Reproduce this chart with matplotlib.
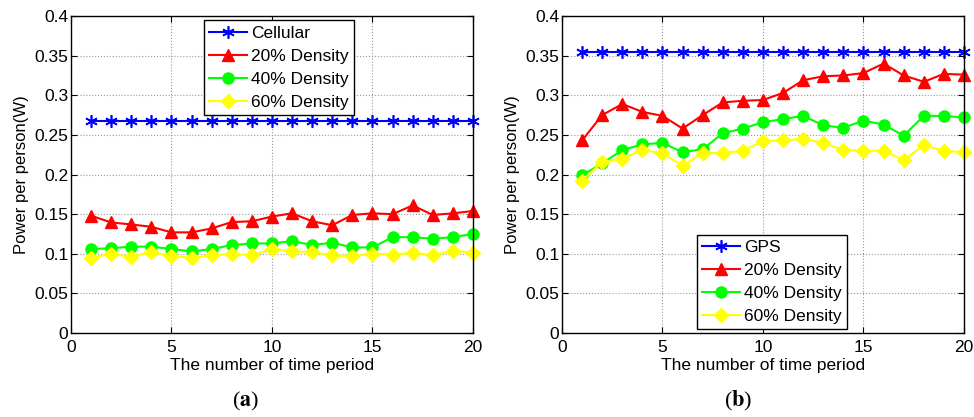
import numpy as np
import matplotlib
matplotlib.use('Agg')
from matplotlib import pyplot as plt

plt.rcParams['font.family'] = ['Liberation Sans', 'DejaVu Sans']
plt.rcParams['mathtext.fontset'] = 'stix'

# Time periods
periods = np.arange(1, 21)

# Panel (a): cellular baseline and densities
cellular = [0.267] * 20
a_20 = [0.148, 0.1395, 0.137, 0.134, 0.127, 0.127, 0.132, 0.140, 0.141, 0.147,
        0.151, 0.141, 0.136, 0.149, 0.151, 0.150, 0.161, 0.149, 0.151, 0.154]
a_40 = [0.106, 0.107, 0.109, 0.109, 0.106, 0.103, 0.106, 0.111, 0.113, 0.113,
        0.116, 0.111, 0.114, 0.108, 0.108, 0.121, 0.121, 0.119, 0.121, 0.125]
a_60 = [0.095, 0.100, 0.096, 0.102, 0.097, 0.095, 0.098, 0.100, 0.098, 0.106,
        0.103, 0.102, 0.098, 0.097, 0.100, 0.099, 0.101, 0.098, 0.104, 0.101]

# Panel (b): GPS baseline and densities
gps = [0.354] * 20
b_20 = [0.243, 0.275, 0.289, 0.279, 0.274, 0.258, 0.275, 0.291, 0.293, 0.294,
        0.303, 0.319, 0.324, 0.325, 0.328, 0.340, 0.325, 0.317, 0.327, 0.326]
b_40 = [0.199, 0.214, 0.231, 0.238, 0.240, 0.228, 0.232, 0.252, 0.258, 0.266,
        0.270, 0.274, 0.262, 0.259, 0.268, 0.263, 0.249, 0.274, 0.274, 0.272]
b_60 = [0.192, 0.216, 0.220, 0.231, 0.227, 0.211, 0.227, 0.227, 0.230, 0.242,
        0.243, 0.245, 0.240, 0.231, 0.230, 0.230, 0.218, 0.237, 0.230, 0.228]

yticks = np.arange(0, 0.401, 0.05)
ytick_labels = ['0', '0.05', '0.1', '0.15', '0.2', '0.25', '0.3', '0.35', '0.4']
xticks = [0, 5, 10, 15, 20]

# asterisk marker like matlab's '*'
star = (6, 2, 0)


def draw_panel(ax, base, base_name, d20, d40, d60, legend_anchor):
    ax.plot(periods, base, color='b', marker=star, ms=9, mew=1.2, lw=1.5, label=base_name, clip_on=False)
    ax.plot(periods, d20, color='r', marker='^', ms=9, lw=1.5, label='20% Density', clip_on=False)
    ax.plot(periods, d40, color=(0, 1, 0), marker='o', ms=8, lw=1.5, label='40% Density', clip_on=False)
    ax.plot(periods, d60, color=(1, 1, 0), marker='D', ms=7, lw=1.5, label='60% Density', clip_on=False)
    ax.set_xlim(0, 20)
    ax.set_ylim(0, 0.4)
    ax.set_xticks(xticks)
    ax.set_yticks(yticks)
    ax.set_yticklabels(ytick_labels)
    ax.tick_params(direction='in', top=True, right=True, labelsize=12.5, length=4)
    ax.tick_params(axis='x', pad=5)
    ax.tick_params(axis='y', pad=2)
    ax.grid(True, linestyle=':', color='#9a9a9a', lw=0.8)
    for s in ax.spines.values():
        s.set_linewidth(1.0)
    ax.set_xlabel('The number of time period', fontsize=12.5, labelpad=2)
    ax.set_ylabel('Power per person(W)', fontsize=12, labelpad=4)
    leg = ax.legend(loc='lower left', bbox_to_anchor=legend_anchor, fontsize=12.5,
                    fancybox=False, edgecolor='k', framealpha=1, handlelength=2.2,
                    handletextpad=0.2, borderpad=0.3, labelspacing=0.45, borderaxespad=0)
    leg.get_frame().set_linewidth(1.0)


fig = plt.figure(figsize=(9.74, 4.17), dpi=100)
ax1 = fig.add_axes([0.0729, 0.2014, 0.4127, 0.7602])
ax2 = fig.add_axes([0.577, 0.2014, 0.4127, 0.7602])

draw_panel(ax1, cellular, 'Cellular', a_20, a_40, a_60, (0.331, 0.688))
draw_panel(ax2, gps, 'GPS', b_20, b_40, b_60, (0.336, 0.0126))

fig.text(0.2525, 0.038, r'($\mathbf{a}$)', ha='center', va='center', fontsize=16,
         family='Liberation Serif')
fig.text(0.758, 0.038, r'($\mathbf{b}$)', ha='center', va='center', fontsize=16,
         family='Liberation Serif')

fig.savefig('out.png', dpi=100)
